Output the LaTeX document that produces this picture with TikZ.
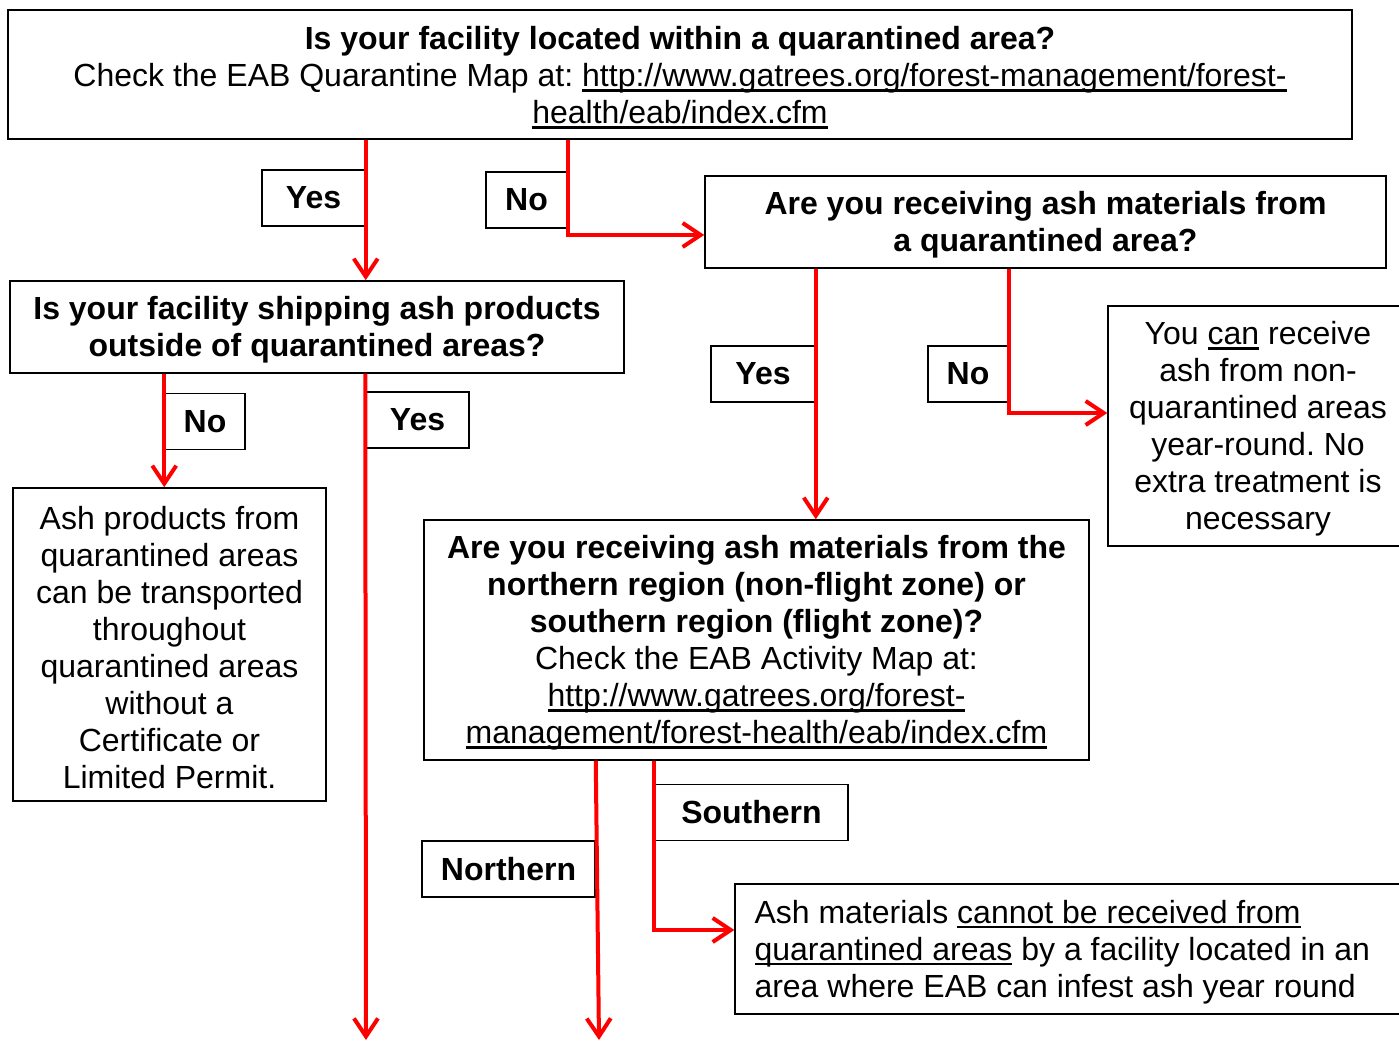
\documentclass[tikz,border=0pt]{standalone}
\usepackage{fontspec}
\setmainfont{Liberation Sans}
\usepackage{tikz}
\usetikzlibrary{arrows.meta,positioning,calc}
\definecolor{flowred}{RGB}{255,0,0}
\frenchspacing
\newsavebox{\ulbox}
\newcommand{\ulword}[1]{\leavevmode\sbox\ulbox{#1}\rlap{\rule[-2.4pt]{\wd\ulbox}{1.1pt}}\usebox\ulbox}

\begin{document}
\begin{tikzpicture}[x=0.5pt,y=-0.5pt,>={Straight Barb[length=9pt,width=12pt]}]
  \tikzstyle{qbox}=[rectangle,draw,line width=0.75pt,align=flush center,inner sep=0pt,font=\fontsize{16}{18.5}\selectfont,execute at begin node={\rule{0pt}{14.7pt}}]
  \tikzset{boxw/.style={minimum width=#1,text width=#1}}
  \tikzstyle{tag}=[rectangle,draw,line width=0.75pt,inner sep=0pt,font=\fontsize{16}{18.5}\selectfont\bfseries,minimum height=28pt]
  \tikzstyle{flow}=[->,draw=flowred,line width=2pt]
  \useasboundingbox (0,0) rectangle (1399,1042);
  % question and answer boxes
  \node[qbox,boxw=672pt,minimum height=64.5pt] (site) at (680,74.5)
    {\textbf{Is your facility located within a quarantined area?}\\
     Check the EAB Quarantine Map at: \ulword{http://www.gatrees.org/forest-management/forest-}\\
     \ulword{health/eab/index.cfm}};
  \node[qbox,boxw=340.5pt,minimum height=46pt] (recv) at (1045.5,222)
    {\textbf{Are you receiving ash materials from}\\ \textbf{a quarantined area?}};
  \node[qbox,boxw=307pt,minimum height=46pt] (ship) at (317,327)
    {\textbf{Is your facility shipping ash products}\\ \textbf{outside of quarantined areas?}};
  \node[qbox,boxw=156.5pt,minimum height=156.5pt] (inside) at (169.5,644.5)
    {Ash products from\\ quarantined areas\\ can be transported\\ throughout\\ quarantined areas\\ without a\\ Certificate or\\ Limited Permit.};
  \node[qbox,boxw=150pt,minimum height=120pt] (nonq) at (1258,426)
    {You \ulword{can} receive\\ ash from non-\\ quarantined areas\\ year-round. No\\ extra treatment is\\ necessary};
  \node[qbox,boxw=332.5pt,minimum height=120pt] (zone) at (756.5,640)
    {\textbf{Are you receiving ash materials from the}\\
     \textbf{northern region (non-flight zone) or}\\
     \textbf{southern region (flight zone)?}\\
     Check the EAB Activity Map at:\\
     \ulword{http://www.gatrees.org/forest-}\\
     \ulword{management/forest-health/eab/index.cfm}};
  \node[qbox,minimum width=337.5pt,minimum height=65pt,text width=318pt,align=flush left] (blocked) at (1072.5,949)
    {Ash materials \ulword{cannot be received from}\\
     \ulword{quarantined areas} by a facility located in an\\
     area where EAB can infest ash year round};
  % answer tags
  \node[tag,minimum width=51.5pt] (yesA) at (313.5,198) {Yes};
  \node[tag,minimum width=40.5pt] (noA) at (526.5,200) {No};
  \node[tag,minimum width=40pt] (noB) at (205,421.5) {No};
  \node[tag,minimum width=51.5pt] (yesB) at (417.5,420) {Yes};
  \node[tag,minimum width=52pt] (yesC) at (763,374) {Yes};
  \node[tag,minimum width=40pt] (noC) at (968,374) {No};
  \node[tag,minimum width=96.5pt] (southern) at (751.5,812.5) {Southern};
  \node[tag,minimum width=86.5pt] (northern) at (508.5,869) {Northern};
  \coordinate (endYes) at (366,1040);
  \coordinate (endNorth) at (599,1040);
  % connectors
  \draw[flow] (site.south -| yesA.east) -- (ship.north -| yesA.east);
  \draw[flow] (site.south -| noA.east) |- ([yshift=-6.5pt]recv.west);
  \draw[flow] (ship.south -| noB.west) -- (inside.north -| noB.west);
  \draw[flow] (ship.south -| yesB.west) -- (endYes);
  \draw[flow] (recv.south -| yesC.east) -- (zone.north -| yesC.east);
  \draw[flow] (recv.south -| noC.east) |- ([yshift=6.5pt]nonq.west);
  \draw[flow] (zone.south -| southern.west) |- ([yshift=9.5pt]blocked.west);
  \draw[flow] (zone.south -| northern.east) -- (endNorth);
\end{tikzpicture}
\end{document}
